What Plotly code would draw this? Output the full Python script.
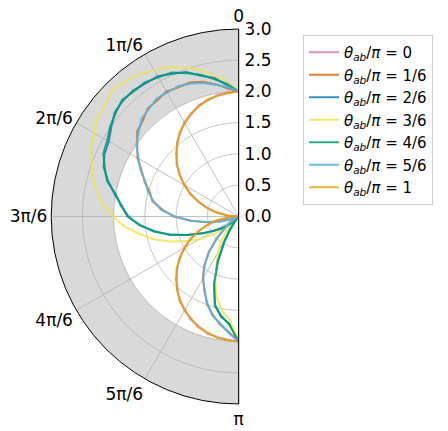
import plotly.graph_objects as go

# ---------------- data ----------------
THETA_DEG = [0, 5, 10, 15, 20, 25, 30, 35, 40, 45, 50, 55, 60, 65, 70, 75, 80, 85, 90,
             95, 100, 105, 110, 115, 120, 125, 130, 135, 140, 145, 150, 155, 160, 165,
             170, 175, 180]

R_0 = [2.00, 1.99, 1.97, 1.92, 1.89, 1.80, 1.74, 1.63, 1.54, 1.40, 1.30, 1.14, 1.01, 0.84,
       0.69, 0.51, 0.36, 0.16, 0.01, 0.18, 0.34, 0.53, 0.67, 0.86, 0.99, 1.16, 1.28, 1.42,
       1.52, 1.65, 1.72, 1.82, 1.87, 1.94, 1.96, 1.98, 2.00]
R_1_6 = [2.00, 2.06, 2.15, 2.23, 2.28, 2.28, 2.31, 2.27, 2.26, 2.17, 2.12, 1.98, 1.87, 1.71,
         1.60, 1.47, 1.40, 1.22, 1.04, 0.76, 0.53, 0.29, 0.13, 0.02, 0.09, 0.15, 0.29, 0.49,
         0.75, 0.95, 1.15, 1.29, 1.49, 1.62, 1.75, 1.85, 2.00]
R_2_6 = [2.00, 2.11, 2.25, 2.33, 2.46, 2.52, 2.59, 2.60, 2.63, 2.62, 2.59, 2.49, 2.40, 2.37,
         2.30, 2.16, 2.01, 1.87, 1.78, 1.58, 1.38, 1.12, 0.87, 0.62, 0.46, 0.32, 0.21, 0.09,
         0.05, 0.21, 0.46, 0.78, 1.16, 1.46, 1.63, 1.72, 2.00]
R_3_6 = [2.00, 2.18, 2.30, 2.44, 2.53, 2.64, 2.70, 2.78, 2.82, 2.86, 2.79, 2.76, 2.67, 2.61,
         2.50, 2.43, 2.31, 2.18, 2.01, 1.84, 1.61, 1.41, 1.17, 0.93, 0.73, 0.49, 0.29, 0.07,
         0.31, 0.49, 0.66, 0.84, 1.10, 1.35, 1.53, 1.66, 1.98]
R_4_6 = [2.00, 2.13, 2.23, 2.35, 2.44, 2.54, 2.57, 2.62, 2.61, 2.64, 2.57, 2.51, 2.43, 2.39,
         2.28, 2.18, 1.99, 1.89, 1.76, 1.60, 1.36, 1.14, 0.85, 0.64, 0.45, 0.34, 0.20, 0.11,
         0.04, 0.23, 0.44, 0.80, 1.14, 1.48, 1.61, 1.74, 2.00]
R_5_6 = [2.00, 2.08, 2.14, 2.21, 2.26, 2.30, 2.29, 2.30, 2.24, 2.20, 2.09, 2.00, 1.85, 1.73,
         1.58, 1.50, 1.38, 1.25, 1.02, 0.78, 0.51, 0.31, 0.12, 0.03, 0.08, 0.17, 0.27, 0.51,
         0.73, 0.97, 1.13, 1.31, 1.47, 1.64, 1.73, 1.87, 2.00]
R_1 = [2.00, 1.98, 1.96, 1.94, 1.87, 1.82, 1.72, 1.65, 1.52, 1.42, 1.28, 1.16, 0.99, 0.86,
       0.67, 0.53, 0.34, 0.18, 0.02, 0.16, 0.36, 0.51, 0.69, 0.84, 1.01, 1.14, 1.30, 1.40,
       1.54, 1.63, 1.74, 1.80, 1.89, 1.92, 1.97, 1.99, 2.00]

SERIES_LABELS = ["0", "1/6", "2/6", "3/6", "4/6", "5/6", "1"]
SERIES_R = [R_0, R_1_6, R_2_6, R_3_6, R_4_6, R_5_6, R_1]
SERIES_COLORS = ["rgba(204,121,167,0.8)", "rgba(213,94,0,0.8)", "rgba(0,114,178,0.8)",
                 "rgba(240,228,66,0.8)", "rgba(0,158,115,0.85)", "rgba(86,180,233,0.9)",
                 "rgba(230,159,0,0.8)"]

ANGLE_TICKS = [0, 30, 60, 90, 120, 150, 180]
ANGLE_TICKTEXT = ["0", "1π/6", "2π/6", "3π/6", "4π/6", "5π/6", "π"]
RADIAL_TICKS = [0.0, 0.5, 1.0, 1.5, 2.0, 2.5, 3.0]
R_MAX = 3.0
BAND = (2.0, 3.0)

FONT = "DejaVu Sans"
GRID_COLOR = "#b0b0b0"

fig = go.Figure()

# shaded band
fig.add_trace(go.Barpolar(
    r=[BAND[1] - BAND[0]], base=[BAND[0]], theta=[90], width=[180],
    marker=dict(color="#d9d9d9", line=dict(width=0)),
    showlegend=False, hoverinfo="skip"))

# grid circles
arc_theta = [i * 0.5 for i in range(361)]
for rv in RADIAL_TICKS[1:-1]:
    fig.add_trace(go.Scatterpolar(
        r=[rv] * len(arc_theta), theta=arc_theta, mode="lines",
        line=dict(color=GRID_COLOR, width=0.8), showlegend=False, hoverinfo="skip"))
# grid spokes
for tv in ANGLE_TICKS[1:-1]:
    fig.add_trace(go.Scatterpolar(
        r=[0, R_MAX], theta=[tv, tv], mode="lines",
        line=dict(color=GRID_COLOR, width=0.8), showlegend=False, hoverinfo="skip"))

# data series
for lab, rr, col in zip(SERIES_LABELS, SERIES_R, SERIES_COLORS):
    fig.add_trace(go.Scatterpolar(
        r=rr, theta=THETA_DEG, mode="lines",
        line=dict(color=col, width=2),
        name="<i>θ</i><sub><i>ab</i></sub>/<i>π</i> = " + lab))

# straight edge of the half disc
fig.add_trace(go.Scatterpolar(
    r=[R_MAX, 0, R_MAX], theta=[ANGLE_TICKS[0], ANGLE_TICKS[0], ANGLE_TICKS[-1]],
    mode="lines", line=dict(color="#3a3a3a", width=1.2), cliponaxis=False,
    showlegend=False, hoverinfo="skip"))

W, H = 448, 431
cx, cy, rad = 238.7, 216.5, 187.5
fig.update_layout(
    width=W, height=H,
    margin=dict(l=0, r=0, t=0, b=0),
    paper_bgcolor="white",
    font=dict(family=FONT, size=15, color="black"),
    polar=dict(
        domain=dict(x=[(cx - rad) / W, cx / W], y=[1 - (cy + rad) / H, 1 - (cy - rad) / H]),
        sector=[90, 270],
        bgcolor="white",
        angularaxis=dict(
            rotation=90, direction="counterclockwise",
            tickmode="array", tickvals=ANGLE_TICKS, ticktext=ANGLE_TICKTEXT,
            showgrid=False, showline=True, linecolor="black", linewidth=1,
            ticks="", tickfont=dict(size=17, family=FONT, color="black")),
        radialaxis=dict(
            range=[0, R_MAX], angle=90, side="clockwise", tickangle=90,
            tickmode="array", tickvals=RADIAL_TICKS,
            ticktext=["&nbsp;%.1f" % v for v in RADIAL_TICKS],
            showgrid=False, showline=False, ticks="",
            tickfont=dict(size=17, family=FONT, color="black")),
    ),
    legend=dict(
        x=303 / W, y=1 - 35 / H, xanchor="left", yanchor="top",
        bgcolor="white", bordercolor="#cccccc", borderwidth=1,
        font=dict(size=15, family=FONT, color="black")),
)

fig.write_html("out.html")
